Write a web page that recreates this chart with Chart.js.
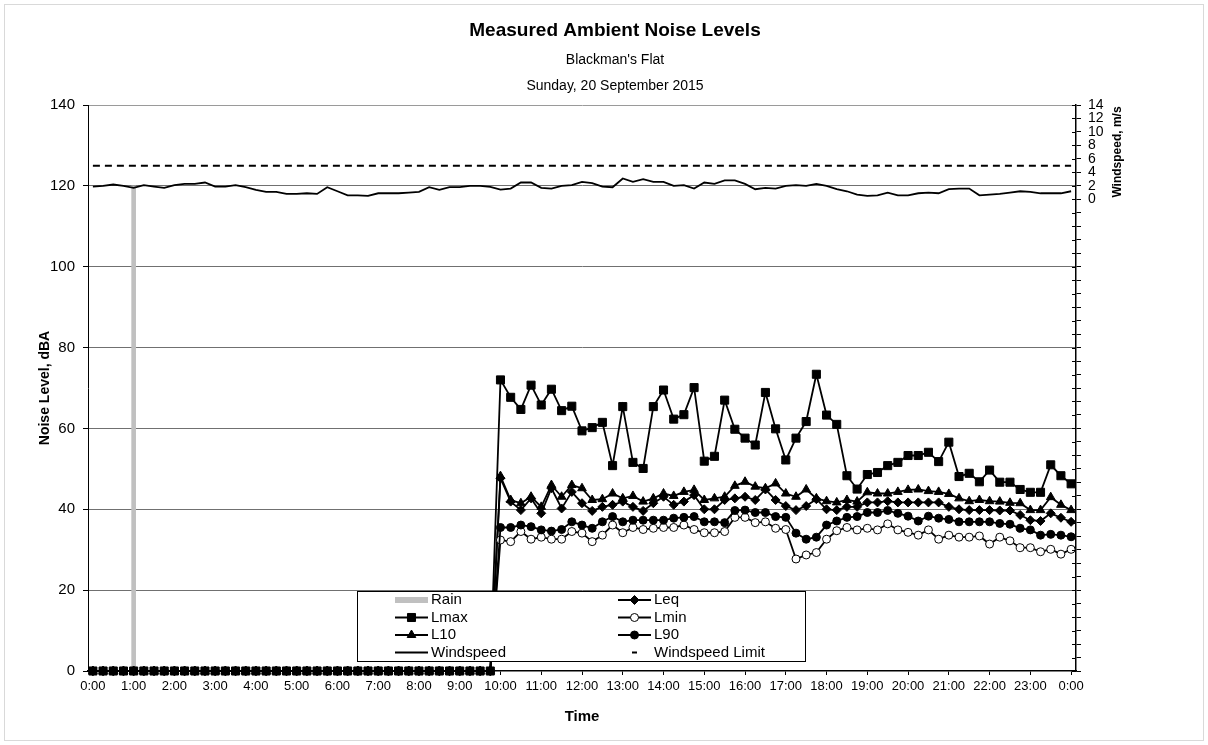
<!DOCTYPE html>
<html>
<head>
<meta charset="utf-8">
<script src="https://cdn.jsdelivr.net/npm/chart.js@4.4.1/dist/chart.umd.min.js"></script>
<style>
  html, body { margin: 0; padding: 0; background: #fff; }
  #wrap { position: relative; width: 1208px; height: 745px; }
</style>
</head>
<body>
<div id="wrap"><canvas id="noise" width="1208" height="745"></canvas></div>
<script>
// readings every 15 minutes, 0:00 .. 24:00 (hours)
const times = [];
for (let i = 0; i <= 96; i++) times.push(i / 4);

// logger recorded 0 before it was deployed at 10:00 (0:00 - 9:45)
const offline = [0,0,0,0,0,0,0,0,0,0, 0,0,0,0,0,0,0,0,0,0,
                 0,0,0,0,0,0,0,0,0,0, 0,0,0,0,0,0,0,0,0,0];

// 10:00 .. 24:00
const lmax = [72.0, 67.7, 64.7, 70.7, 65.8, 69.7, 64.4, 65.5, 59.4, 60.2, 61.5, 50.8, 65.4, 51.6, 50.1,
  65.4, 69.5, 62.3, 63.4, 70.1, 51.9, 53.1, 67.0, 59.8, 57.6, 55.9, 68.9, 59.9, 52.2, 57.6, 61.7, 73.4,
  63.3, 61.0, 48.3, 45.0, 48.6, 49.1, 50.8, 51.6, 53.3, 53.3, 54.1, 51.8, 56.6, 48.1, 48.9, 46.8, 49.7,
  46.7, 46.7, 44.9, 44.2, 44.2, 51.0, 48.3, 46.3];
const l10 = [48.2, 42.3, 41.5, 43.1, 40.6, 46.0, 43.1, 46.0, 45.2, 42.3, 42.5, 43.9, 42.7, 43.3, 41.9,
  42.7, 43.9, 43.3, 44.3, 44.8, 42.3, 42.7, 43.1, 45.8, 46.8, 45.6, 45.2, 46.4, 43.9, 43.1, 44.9, 42.7,
  42.0, 41.7, 42.3, 41.9, 44.2, 43.9, 43.9, 44.3, 44.8, 44.9, 44.5, 44.3, 43.8, 42.7, 42.0, 42.3, 42.0,
  41.9, 41.6, 41.5, 39.8, 39.8, 43.0, 41.1, 39.8];
const leq = [47.7, 41.9, 39.8, 42.7, 39.0, 45.2, 40.2, 44.3, 41.5, 39.6, 40.6, 41.1, 41.9, 40.6, 39.6,
  41.5, 43.1, 41.1, 41.9, 43.5, 40.0, 40.0, 42.3, 42.7, 43.1, 42.3, 44.9, 42.3, 40.8, 39.8, 40.8, 42.5,
  40.0, 39.8, 40.6, 40.6, 41.7, 41.7, 42.0, 41.7, 41.7, 41.7, 41.7, 41.7, 40.6, 40.0, 39.8, 39.8, 39.8,
  39.7, 39.7, 38.6, 37.3, 37.1, 39.0, 37.9, 36.9];
const l90 = [35.5, 35.5, 36.1, 35.7, 34.9, 34.6, 35.0, 36.9, 36.1, 35.3, 36.9, 38.2, 36.9, 37.3, 37.3,
  37.3, 37.3, 37.8, 38.0, 38.2, 36.9, 36.9, 36.7, 39.7, 39.8, 39.2, 39.2, 38.2, 38.0, 34.1, 32.6, 33.1,
  36.1, 37.1, 38.0, 38.2, 39.2, 39.2, 39.7, 39.0, 38.3, 37.1, 38.3, 37.8, 37.5, 36.9, 36.9, 36.9, 36.9,
  36.5, 36.3, 35.3, 34.9, 33.6, 33.8, 33.6, 33.2];
const lmin = [32.4, 32.0, 34.5, 32.6, 33.1, 32.6, 32.6, 34.5, 34.1, 32.0, 33.6, 36.1, 34.2, 35.5, 35.0,
  35.3, 35.5, 35.5, 36.1, 35.0, 34.2, 34.2, 34.5, 38.0, 38.0, 36.7, 36.9, 35.3, 35.0, 27.7, 28.7, 29.3,
  32.6, 34.7, 35.5, 34.9, 35.3, 34.9, 36.4, 34.9, 34.3, 33.6, 34.9, 32.6, 33.6, 33.1, 33.1, 33.4, 31.4,
  33.1, 32.2, 30.5, 30.5, 29.5, 30.1, 28.9, 30.1];

// windspeed, m/s, 0:00 .. 24:00
const windspeed = [1.9, 2.0, 2.2, 2.0, 1.7, 2.1, 1.9, 1.7, 2.1, 2.3, 2.3, 2.5, 1.9, 1.9, 2.1, 1.8,
  1.4, 1.1, 1.1, 0.8, 0.8, 0.9, 0.8, 1.8, 1.2, 0.6, 0.6, 0.5, 0.9, 0.9, 0.9, 1.0, 1.1, 1.8, 1.4, 1.8,
  1.8, 2.0, 2.0, 1.85, 1.45, 1.6, 2.5, 2.5, 1.7, 1.6, 2.0, 2.1, 2.6, 2.4, 1.9, 1.8, 3.1, 2.6, 3.0, 2.6,
  2.6, 2.0, 2.1, 1.6, 2.5, 2.3, 2.8, 2.8, 2.3, 1.5, 1.7, 1.6, 2.0, 2.1, 2.0, 2.3, 2.0, 1.5, 1.2, 0.7,
  0.5, 0.6, 1.0, 0.6, 0.6, 0.9, 1.0, 0.9, 1.5, 1.6, 1.6, 0.6, 0.7, 0.8, 1.0, 1.2, 1.1, 0.9, 0.9, 0.9, 1.2];

const windLimit = 5;
const limitTimes = [0, 24];
const rainTimes = [1];
const rain = [120];

const hourTicks = { min: -0.12, max: 24.12 };

function pts(values) {
  return times.map((t, i) => ({ x: t, y: values[i] }));
}

Chart.defaults.font.family = '"Liberation Sans", Arial, sans-serif';
Chart.defaults.color = '#000';

const legendRows = [['Rain', 'Leq'], ['Lmax', 'Lmin'], ['L10', 'L90'], ['Windspeed', 'Windspeed Limit']];

const boxLegend = {
  id: 'boxLegend',
  afterDraw(chart) {
    const ctx = chart.ctx;
    ctx.save();
    ctx.fillStyle = '#fff';
    ctx.fillRect(357.5, 591.5, 448, 70);
    ctx.strokeStyle = '#000';
    ctx.lineWidth = 1;
    ctx.strokeRect(357.5, 591.5, 448, 70);
    ctx.font = '15px "Liberation Sans", Arial, sans-serif';
    ctx.textBaseline = 'middle';
    const cols = [395, 618];
    legendRows.forEach((row, r) => {
      const y = 600 + r * 17.5;
      row.forEach((label, c) => {
        const ds = chart.data.datasets.find(d => d.label === label);
        const x1 = cols[c], x2 = cols[c] + 33;
        if (ds.type === 'bar') {
          ctx.fillStyle = ds.backgroundColor;
          ctx.fillRect(x1, y - 3, x2 - x1, 6);
        } else if (ds.borderDash) {
          ctx.fillStyle = '#000';
          ctx.fillRect(x1 + 14, y - 1, 5, 2);
        } else {
          ctx.strokeStyle = ds.borderColor;
          ctx.lineWidth = ds.borderWidth;
          ctx.beginPath();
          ctx.moveTo(x1, y);
          ctx.lineTo(x2, y);
          ctx.stroke();
          if (ds.pointRadius > 0) {
            ctx.fillStyle = ds.pointBackgroundColor;
            ctx.strokeStyle = ds.pointBorderColor;
            ctx.lineWidth = ds.pointBorderWidth;
            Chart.helpers.drawPoint(ctx, { pointStyle: ds.pointStyle, radius: ds.pointRadius, borderWidth: ds.pointBorderWidth, rotation: 0 }, (x1 + x2) / 2, y);
          }
        }
        ctx.fillStyle = '#000';
        ctx.fillText(label, x2 + 3, y);
      });
    });
    ctx.restore();
  }
};

const extras = {
  id: 'extras',
  beforeDraw(chart) {
    const ctx = chart.ctx;
    ctx.save();
    ctx.fillStyle = '#fff';
    ctx.fillRect(0, 0, chart.width, chart.height);
    ctx.strokeStyle = '#d9d9d9';
    ctx.strokeRect(4.5, 4.5, 1199, 736);
    ctx.restore();
  },
  afterDraw(chart) {
    const ctx = chart.ctx;
    const y2 = chart.scales.y2;
    const right = chart.chartArea.right;
    ctx.save();
    ctx.strokeStyle = '#000';
    ctx.lineWidth = 1;
    y2.ticks.forEach(t => {
      const y = Math.round(y2.getPixelForValue(t.value)) + 0.5;
      ctx.beginPath();
      ctx.moveTo(right - 4, y);
      ctx.lineTo(right, y);
      ctx.stroke();
    });
    ctx.translate(1118, 152);
    ctx.rotate(-Math.PI / 2);
    ctx.font = 'bold 12px "Liberation Sans", Arial, sans-serif';
    ctx.textAlign = 'center';
    ctx.textBaseline = 'middle';
    ctx.fillStyle = '#000';
    ctx.fillText('Windspeed, m/s', 0, 0);
    ctx.restore();
  }
};

const noiseLine = {
  type: 'line', yAxisID: 'y', borderColor: '#000', borderWidth: 1.8,
  pointBackgroundColor: '#000', pointBorderColor: '#000', pointBorderWidth: 1,
  clip: false, tension: 0
};

new Chart(document.getElementById('noise'), {
  type: 'line',
  data: {
    datasets: [
      { ...noiseLine, label: 'Lmax', data: pts(offline.concat(lmax)), pointStyle: 'rect', pointRadius: 5.7, order: 0 },
      { ...noiseLine, label: 'L90', data: pts(offline.concat(l90)), pointStyle: 'circle', pointRadius: 4, order: 1 },
      { ...noiseLine, label: 'Lmin', data: pts(offline.concat(lmin)), pointStyle: 'circle', pointRadius: 4,
        pointBackgroundColor: '#fff', order: 2 },
      { ...noiseLine, label: 'L10', data: pts(offline.concat(l10)), pointStyle: 'triangle', pointRadius: 5, order: 3 },
      { ...noiseLine, label: 'Leq', data: pts(offline.concat(leq)), pointStyle: 'rectRot', pointRadius: 4.5, order: 4 },
      { type: 'line', label: 'Windspeed', yAxisID: 'y2', data: pts(windspeed), borderColor: '#000',
        borderWidth: 1.8, pointRadius: 0, tension: 0, order: 5 },
      { type: 'line', label: 'Windspeed Limit', yAxisID: 'y2',
        data: limitTimes.map(t => ({ x: t, y: windLimit })), borderColor: '#000', borderWidth: 2,
        borderDash: [7, 5], pointRadius: 0, order: 6 },
      { type: 'bar', label: 'Rain', yAxisID: 'y', data: rainTimes.map((t, i) => ({ x: t, y: rain[i] })),
        backgroundColor: '#c0c0c0', barThickness: 4, order: 7 }
    ]
  },
  options: {
    responsive: false,
    animation: false,
    devicePixelRatio: 1,
    layout: { padding: { left: 22 } },
    plugins: {
      legend: { display: false },
      tooltip: { enabled: false },
      title: {
        display: true, text: 'Measured Ambient Noise Levels',
        font: { size: 19, weight: 'bold', lineHeight: 1.2 },
        padding: { top: 19.6, bottom: 4.6 }
      },
      subtitle: {
        display: true, text: ["Blackman's Flat", 'Sunday, 20 September 2015'],
        font: { size: 14, lineHeight: '26px' }, color: '#000',
        padding: { top: 0, bottom: 6 }
      }
    },
    scales: {
      x: {
        type: 'linear', min: hourTicks.min, max: hourTicks.max, offset: false,
        afterFit: s => { s.height = 74; },
        ticks: { stepSize: 1, includeBounds: false, autoSkip: false, maxRotation: 0, padding: 4,
                 font: { size: 13 }, callback: v => (v % 24) + ':00' },
        grid: { offset: false, drawOnChartArea: false, tickLength: 4, tickColor: '#000' },
        border: { color: '#000', width: 1.5 },
        title: { display: true, text: 'Time', font: { size: 15, weight: 'bold' }, padding: { bottom: 19 } }
      },
      y: {
        position: 'left', min: 0, max: 140,
        afterFit: s => { s.width = 66; },
        ticks: { stepSize: 20, padding: 8, font: { size: 15 } },
        grid: {
          tickLength: 5, tickColor: '#000',
          color: c => c.tick && c.tick.value === 140 ? '#9a9a9a' : (c.tick && c.tick.value === 0 ? 'rgba(0,0,0,0)' : '#707070')
        },
        border: { color: '#000', width: 1 },
        title: { display: true, text: 'Noise Level, dBA', font: { size: 14, weight: 'bold' }, padding: { top: 14.6 } }
      },
      y2: {
        position: 'right', min: -70, max: 14,
        afterFit: s => { s.width = 132; },
        ticks: { stepSize: 2, autoSkip: false, padding: 7, font: { size: 14 },
                 callback: v => (v >= 0 ? v : '') },
        grid: { drawOnChartArea: false, tickLength: 5, tickColor: '#000' },
        border: { color: '#000', width: 1.5 }
      }
    }
  },
  plugins: [extras, boxLegend]
});
</script>
</body>
</html>
